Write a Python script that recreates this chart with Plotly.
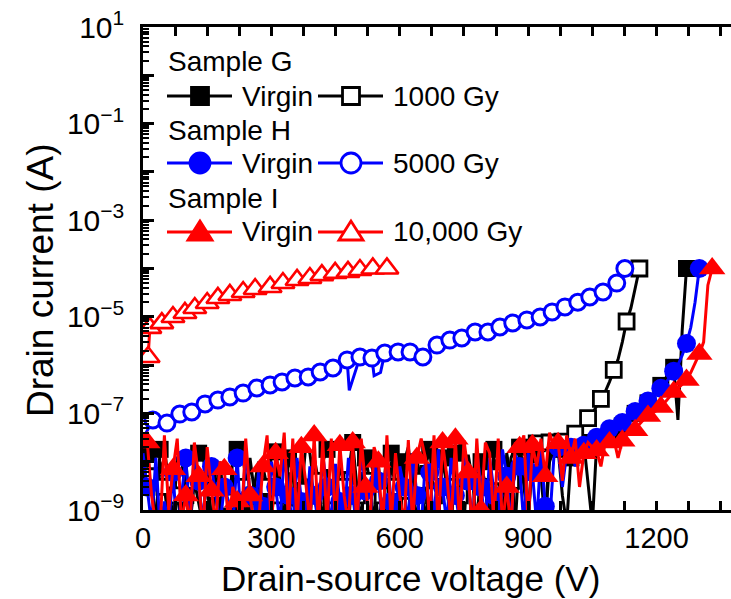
import plotly.graph_objects as go

# ---------------- data (currents in nA on a 10 V grid for the virgin / 1000 Gy sweeps) ----------------
V_G_virgin = list(range(0, 1280, 10))
I_G_virgin_nA = [
    20, 15, 3, 0.5, 18, 18, 4, 0.5, 12, 12,
    2, 0.5, 6, 15, 15, 3, 0.5, 8, 8, 1.5,
    0.5, 14, 18, 18, 5, 0.5, 3, 10, 2, 0.5,
    16, 16, 4, 0.5, 12, 6, 0.5, 2, 20, 15,
    3, 0.5, 10, 18, 18, 2, 0.5, 6, 6, 25,
    3, 0.5, 12, 12, 5, 0.5, 2, 15, 15, 4,
    0.5, 10, 20, 3, 0.5, 8, 8, 18, 2, 0.5,
    12, 5, 0.5, 15, 22, 22, 4, 0.5, 10, 10,
    3, 0.5, 18, 18, 6, 1.5, 12, 20, 20, 3,
    0.5, 14, 14, 5, 0.5, 10, 18, 18, 2, 0.5,
    12, 20, 20, 25, 3, 0.5, 22, 25, 28, 30,
    30, 40, 55, 70, 85, 100, 120, 140, 165, 220,
    300, 380, 520, 700, 900, 73, 5300, 100000]

V_G_1000 = list(range(0, 1170, 10))
I_G_1000_nA = [
    8, 2, 5, 0.5, 10, 3, 0.5, 6, 2, 0.5,
    12, 0.5, 4, 1.5, 0.5, 8, 0.5, 2.5, 10, 0.5,
    1.5, 6, 0.5, 3, 0.5, 12, 2, 0.5, 8, 3,
    0.5, 10, 2, 0.5, 6, 1.8, 0.5, 9, 2.5, 0.5,
    12, 4, 0.5, 7, 2, 0.5, 10, 3, 0.5, 6,
    2, 0.5, 12, 4, 0.5, 8, 2, 0.5, 10, 3,
    0.5, 7, 2.5, 0.5, 11, 4, 0.5, 8, 2, 0.5,
    12, 3, 0.5, 9, 2, 0.5, 14, 4, 0.5, 10,
    3, 0.5, 12, 5, 0.5, 15, 4, 0.5, 18, 8,
    0.5, 22, 24, 25, 0.5, 25, 26, 25, 26, 28,
    32, 38, 45, 60, 80, 100, 140, 200, 280, 450,
    800, 1300, 3000, 8000, 15000, 40000, 100000]

V_H_virgin = list(range(0, 1310, 10))
I_H_virgin_nA = [
    15, 3, 0.5, 12, 0.4, 1.5, 0.5, 6, 0.3, 2,
    12, 0.5, 15, 4, 0.5, 10, 8, 2, 0.5, 3,
    1.5, 0.5, 12, 0.4, 18, 2, 0.5, 6, 1.2, 0.5,
    10, 3, 0.5, 15, 2, 0.4, 12, 1.5, 0.5, 8,
    2, 0.5, 14, 3, 0.5, 9, 1.5, 0.5, 12, 2,
    0.4, 16, 2.5, 0.5, 10, 4, 0.5, 13, 1.5, 0.5,
    8, 3, 0.5, 15, 2, 0.4, 11, 6, 0.5, 18,
    3, 0.5, 12, 2, 0.5, 14, 4, 0.5, 16, 3,
    0.5, 12, 2, 0.5, 18, 5, 0.5, 14, 8, 0.5,
    15, 6, 0.5, 18, 1.2, 0.5, 12, 20, 3, 15,
    20, 8, 25, 22, 28, 30, 32, 38, 42, 48,
    52, 58, 65, 80, 95, 110, 130, 150, 180, 220,
    260, 330, 410, 550, 750, 1000, 1600, 2800, 6000, 20000,
    100000]

V_H_5000 = [23, 56, 86, 114, 145, 175, 203, 234, 266, 297,
            325, 355, 386, 414, 444, 477, 507, 535, 565, 596,
            624, 654, 687, 717, 745, 776, 806, 834, 864, 897,
            928, 956, 986, 1016, 1044, 1075, 1107, 1126]
I_H_5000 = [7.3e-8, 6.3e-8, 9.7e-8, 1.07e-7, 1.57e-7, 1.89e-7, 2.19e-7, 2.64e-7, 3.36e-7, 3.88e-7,
            4.47e-7, 5.41e-7, 5.68e-7, 7.2e-7, 8.7e-7, 1.28e-6, 1.47e-6, 1.40e-6, 1.78e-6, 1.87e-6,
            1.87e-6, 1.47e-6, 2.6e-6, 3.3e-6, 3.64e-6, 4.84e-6, 4.84e-6, 6.15e-6, 7.44e-6, 8.6e-6,
            9.9e-6, 1.26e-5, 1.6e-5, 2.0e-5, 2.57e-5, 3.26e-5, 5.0e-5, 1.0e-4]
# extra unmarked samples of the 5000 Gy sweep (start and short dips)
V_H_5000_extra = [0, 482, 540, 555]
I_H_5000_extra = [3e-8, 3.0e-7, 6e-7, 7e-7]

V_I_virgin = list(range(0, 1340, 10))
I_I_virgin_nA = [
    40, 25, 2, 0.5, 0.4, 35, 1, 7, 30, 0.5,
    2, 0.5, 25, 5, 0.3, 20, 2.5, 0.5, 10, 7,
    0.5, 3, 1.5, 0.5, 30, 2, 0.5, 0.5, 8, 35,
    0.4, 15, 5, 40, 0.5, 30, 0.5, 20, 4, 0.5,
    35, 0.4, 28, 0.5, 30, 0.5, 22, 2, 0.5, 25,
    0.4, 30, 3, 0.5, 20, 10, 0.4, 35, 0.5, 15,
    2, 0.5, 28, 0.5, 12, 30, 12, 0.5, 35, 0.4,
    25, 5, 0.5, 30, 0.4, 28, 6, 0.3, 30, 1,
    25, 15, 0.5, 30, 0.5, 3, 0.4, 25, 20, 35,
    0.5, 22, 8, 30, 5, 40, 20, 24, 4, 35,
    12, 30, 3, 15, 25, 20, 17, 8, 25, 25,
    30, 12, 27, 35, 40, 45, 60, 75, 88, 100,
    115, 135, 170, 220, 277, 330, 400, 490, 700, 1100,
    1700, 3000, 45000, 100000]

V_I_10000 = [12, 16, 44, 70, 98, 121, 150, 175, 203, 234, 262, 297, 327, 360, 390, 418, 449, 479, 507, 537, 570]
I_I_10000 = [1.47e-6, 5.9e-6, 7.4e-6, 9.9e-6, 1.2e-5, 1.52e-5, 1.93e-5, 2.45e-5, 2.83e-5, 3.26e-5, 3.76e-5,
             4.14e-5, 5.0e-5, 5.78e-5, 6.35e-5, 7.3e-5, 8.1e-5, 8.5e-5, 9.3e-5, 1.0e-4, 1.0e-4]

X_TICKS = [0, 300, 600, 900, 1200]
Y_LABELLED_EXP = [-9, -7, -5, -3, -1, 1]
Y_UNLABELLED_EXP = [-8, -6, -4, -2, 0]

LEGEND_HEADERS = ["Sample G", "Sample H", "Sample I"]
LEGEND_LABELS = [("Virgin", "1000 Gy"), ("Virgin", "5000 Gy"), ("Virgin", "10,000 Gy")]
X_TITLE = "Drain-source voltage (V)"
Y_TITLE = "Drain current (A)"

# ---------------- figure ----------------
BLACK, BLUE, RED = "#000000", "#0000FF", "#FF0000"
LW = 3
W, H = 731, 599
ML, MR, MT, MB = 143, 0, 27, 89
PW, PH = W - ML - MR, H - MT - MB


def amps(lst):
    return [v * 1e-9 for v in lst]


fig = go.Figure()


def add_series(v, i, color, symbol, size, filled, mstart, mstep=3, line_v=None, line_i=None,
               yaxis="y", stroke=3):
    lv = v if line_v is None else line_v
    li = i if line_i is None else line_i
    fig.add_trace(go.Scatter(x=lv, y=li, mode="lines", line=dict(color=color, width=LW),
                             hoverinfo="skip", showlegend=False, yaxis=yaxis))
    fig.add_trace(go.Scatter(x=v[mstart::mstep], y=i[mstart::mstep], mode="markers",
                             marker=dict(symbol=symbol, size=size,
                                         color=color if filled else "white",
                                         line=dict(color=color, width=0 if filled else stroke)),
                             showlegend=False, yaxis=yaxis))


# Sample G
add_series(V_G_virgin, amps(I_G_virgin_nA), BLACK, "square", 17, True, 1)
add_series(V_G_1000, amps(I_G_1000_nA), BLACK, "square", 15, False, 2, stroke=2.8)
# Sample H
add_series(V_H_virgin, amps(I_H_virgin_nA), BLUE, "circle", 19, True, 1)
merged = sorted(zip(V_H_5000 + V_H_5000_extra, I_H_5000 + I_H_5000_extra))
add_series(V_H_5000, I_H_5000, BLUE, "circle", 16, False, 0, 1,
           [m[0] for m in merged], [m[1] for m in merged], stroke=3)
# Sample I
add_series(V_I_virgin, amps(I_I_virgin_nA), RED, "triangle-up", 23, True, 1)
add_series(V_I_10000, I_I_10000, RED, "triangle-up", 20, False, 0, 1, yaxis="y2", stroke=2.6)

# ---------------- legend drawn inside the plot ----------------
def px(x):
    return (x - ML) / PW


def py(y):
    return (H - MB - y) / PH


shapes = []
annotations = []
header_y = [62, 130, 198]
row_y = [96, 163, 232]
colors = [BLACK, BLUE, RED]
kinds = ["square", "circle", "triangle"]
for k in range(3):
    annotations.append(dict(x=px(166), y=py(header_y[k]), xref="paper", yref="paper",
                            text=LEGEND_HEADERS[k], showarrow=False, xanchor="left", yanchor="middle",
                            font=dict(size=28, color="black")))
    for j, (x0, x1, xm, xt) in enumerate([(167, 232, 200, 240), (318, 383, 351, 391)]):
        yy = row_y[k]
        c = colors[k]
        fill = c if j == 0 else "white"
        shapes.append(dict(type="line", xref="paper", yref="paper", x0=px(x0), x1=px(x1),
                           y0=py(yy), y1=py(yy), line=dict(color=c, width=LW)))
        if kinds[k] == "square":
            shapes.append(dict(type="rect", xref="paper", yref="paper", x0=px(xm - 8.5), x1=px(xm + 8.5),
                               y0=py(yy - 8.5), y1=py(yy + 8.5), fillcolor=fill,
                               line=dict(color=c, width=2.8)))
        elif kinds[k] == "circle":
            shapes.append(dict(type="circle", xref="paper", yref="paper", x0=px(xm - 10), x1=px(xm + 10),
                               y0=py(yy - 10), y1=py(yy + 10), fillcolor=fill,
                               line=dict(color=c, width=2.8)))
        else:
            path = "M {},{} L {},{} L {},{} Z".format(px(xm), py(yy - 11), px(xm - 12), py(yy + 8),
                                                    px(xm + 12), py(yy + 8))
            shapes.append(dict(type="path", xref="paper", yref="paper", path=path, fillcolor=fill,
                               line=dict(color=c, width=2.8)))
        annotations.append(dict(x=px(xt), y=py(yy), xref="paper", yref="paper",
                                text=LEGEND_LABELS[k][j], showarrow=False, xanchor="left",
                                yanchor="middle", font=dict(size=28, color="black")))

# axis titles
annotations.append(dict(x=px(410), y=py(578), xref="paper", yref="paper", text=X_TITLE,
                        showarrow=False, xanchor="center", yanchor="middle", font=dict(size=35)))
annotations.append(dict(x=px(40), y=py(281), xref="paper", yref="paper", text=Y_TITLE, textangle=-90,
                        showarrow=False, xanchor="center", yanchor="middle", font=dict(size=37)))


def ylab(e):
    return "10<sup>" + ("\u2212" + str(-e) if e < 0 else str(e)) + "</sup>"


fig.update_layout(
    width=W, height=H,
    margin=dict(l=ML, r=MR, t=MT, b=MB, pad=0),
    plot_bgcolor="white", paper_bgcolor="white",
    font=dict(family="Liberation Sans, Arial, sans-serif", color="black"),
    showlegend=False,
    shapes=shapes, annotations=annotations,
    xaxis=dict(range=[0, 1374], tickmode="array", tickvals=X_TICKS,
               ticks="inside", ticklen=9, tickwidth=2.5, tickcolor="black",
               showline=True, linewidth=2.5, linecolor="black", mirror="allticks",
               showgrid=False, zeroline=False,
               tickfont=dict(size=29),
               minor=dict(tickmode="linear", tick0=0, dtick=75, ticks="inside", ticklen=5,
                          tickwidth=2.5, tickcolor="black", showgrid=False)),
    yaxis=dict(type="log", range=[-9, 1], tickmode="array",
               tickvals=[10.0 ** e for e in Y_LABELLED_EXP], ticktext=[ylab(e) for e in Y_LABELLED_EXP],
               ticks="inside", ticklen=11, tickwidth=2.5, tickcolor="black",
               showline=True, linewidth=2.5, linecolor="black", mirror=False,
               showgrid=False, zeroline=False, ticklabelstandoff=10,
               tickfont=dict(size=30),
               minor=dict(dtick="D1", ticks="inside", ticklen=6, tickwidth=2, tickcolor="black",
                          showgrid=False)),
    yaxis2=dict(type="log", range=[-9, 1], overlaying="y", side="left", anchor="x",
                tickmode="array", tickvals=[10.0 ** e for e in Y_UNLABELLED_EXP],
                showticklabels=False, ticks="inside", ticklen=11, tickwidth=2.5, tickcolor="black",
                showline=False, showgrid=False, zeroline=False),
)

fig.write_html("out.html")
